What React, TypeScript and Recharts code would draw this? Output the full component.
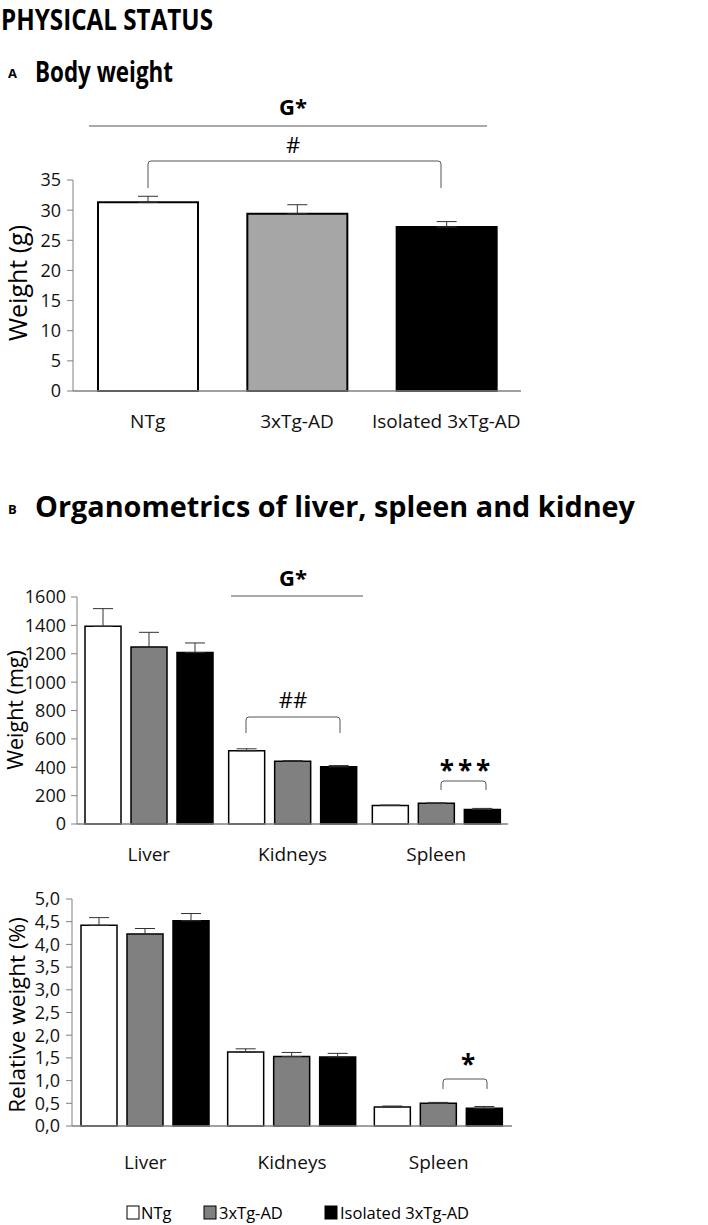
import React from "react";
import { BarChart, Bar, XAxis, YAxis, ErrorBar, Cell } from "recharts";

// Panel A - body weight (g)
const groups = ["NTg", "3xTg-AD", "Isolated 3xTg-AD"];
const bodyWeight = [31.3, 29.4, 27.2];
const bodyWeightErr = [1.0, 1.5, 0.9];
const bodyWeightTicks = [0, 5, 10, 15, 20, 25, 30, 35];

// Panel B - organ weights (mg)
const organs = ["Liver", "Kidneys", "Spleen"];
const organNTg = [1393, 516, 131];
const organNTgErr = [125, 14, 3];
const organTg = [1248, 443, 146];
const organTgErr = [103, 4, 3];
const organIso = [1208, 403, 103];
const organIsoErr = [68, 9, 7];
const organTicks = [0, 200, 400, 600, 800, 1000, 1200, 1400, 1600];

// Panel B - relative weight (%)
const relNTg = [4.42, 1.63, 0.42];
const relNTgErr = [0.17, 0.07, 0.02];
const relTg = [4.23, 1.53, 0.5];
const relTgErr = [0.12, 0.09, 0.02];
const relIso = [4.52, 1.52, 0.39];
const relIsoErr = [0.16, 0.08, 0.04];
const relTicks = [0, 0.5, 1, 1.5, 2, 2.5, 3, 3.5, 4, 4.5, 5];

const colorsA = ["#ffffff", "#a6a6a6", "#000000"];
const colorsB = ["#ffffff", "#808080", "#000000"];

const font = "'Open Sans', sans-serif";
const axisColor = "#808080";

const dataA = groups.map((g, i) => ({
  name: g,
  value: bodyWeight[i],
  err: [0, bodyWeightErr[i]],
}));

const dataOrgans = organs.map((o, i) => ({
  name: o,
  ntg: organNTg[i],
  ntgErr: [0, organNTgErr[i]],
  tg: organTg[i],
  tgErr: [0, organTgErr[i]],
  iso: organIso[i],
  isoErr: [0, organIsoErr[i]],
}));

const dataRel = organs.map((o, i) => ({
  name: o,
  ntg: relNTg[i],
  ntgErr: [0, relNTgErr[i]],
  tg: relTg[i],
  tgErr: [0, relTgErr[i]],
  iso: relIso[i],
  isoErr: [0, relIsoErr[i]],
}));

const xTick = { fill: "#111", fontSize: 19, fontFamily: font };
const yTick = { fill: "#111", fontSize: 18, fontFamily: font };

function Bracket({ x1, x2, y, h }: { x1: number; x2: number; y: number; h: number }) {
  return (
    <path
      d={`M${x1},${y + h} L${x1},${y + 3} Q${x1},${y} ${x1 + 3},${y} L${x2 - 3},${y} Q${x2},${y} ${x2},${y + 3} L${x2},${y + h}`}
      fill="none"
      stroke="#555"
      strokeWidth={1}
    />
  );
}

export default function App() {
  const barProps = { stroke: "#000", strokeWidth: 1.5, isAnimationActive: false, barSize: 36 };
  const err = { width: 10, stroke: "#333", strokeWidth: 1, direction: "y" as const };
  return (
    <div
      style={{
        position: "absolute",
        left: 0,
        top: 0,
        width: 708,
        height: 1225,
        background: "#fff",
        fontFamily: font,
      }}
    >
      <div style={{ position: "absolute", left: 0, top: 0 }}>
        <BarChart
          width={708}
          height={450}
          data={dataA}
          margin={{ top: 180, right: 187, bottom: 19, left: 0 }}
          barSize={100}
        >
          <XAxis
            dataKey="name"
            tickLine={false}
            axisLine={{ stroke: axisColor, strokeWidth: 1.5 }}
            tick={xTick}
            tickMargin={18}
            height={40}
          />
          <YAxis
            width={73}
            domain={[0, 35]}
            ticks={bodyWeightTicks}
            interval={0}
            axisLine={{ stroke: axisColor }}
            tickLine={{ stroke: axisColor }}
            tickSize={6}
            tickMargin={6}
            tick={yTick}
          />
          <Bar dataKey="value" stroke="#000" strokeWidth={2} isAnimationActive={false}>
            {dataA.map((d, i) => (
              <Cell key={d.name} fill={colorsA[i]} />
            ))}
            <ErrorBar dataKey="err" {...err} />
          </Bar>
        </BarChart>
      </div>

      <div style={{ position: "absolute", left: 0, top: 540 }}>
        <BarChart
          width={708}
          height={360}
          data={dataOrgans}
          margin={{ top: 57, right: 200, bottom: 36, left: 0 }}
          barGap={10}
        >
          <XAxis
            dataKey="name"
            tickLine={false}
            axisLine={{ stroke: axisColor, strokeWidth: 1.5 }}
            tick={xTick}
            tickMargin={18}
            height={40}
          />
          <YAxis
            width={77}
            domain={[0, 1600]}
            ticks={organTicks}
            interval={0}
            axisLine={{ stroke: axisColor }}
            tickLine={{ stroke: axisColor }}
            tickSize={6}
            tickMargin={5}
            tick={yTick}
          />
          <Bar dataKey="ntg" fill={colorsB[0]} {...barProps}>
            <ErrorBar dataKey="ntgErr" {...err} />
          </Bar>
          <Bar dataKey="tg" fill={colorsB[1]} {...barProps}>
            <ErrorBar dataKey="tgErr" {...err} />
          </Bar>
          <Bar dataKey="iso" fill={colorsB[2]} {...barProps}>
            <ErrorBar dataKey="isoErr" {...err} />
          </Bar>
        </BarChart>
      </div>

      <div style={{ position: "absolute", left: 0, top: 870 }}>
        <BarChart
          width={708}
          height={330}
          data={dataRel}
          margin={{ top: 29, right: 196, bottom: 34, left: 0 }}
          barGap={10}
        >
          <XAxis
            dataKey="name"
            tickLine={false}
            axisLine={{ stroke: axisColor, strokeWidth: 1.5 }}
            tick={xTick}
            tickMargin={24}
            height={40}
          />
          <YAxis
            width={72}
            domain={[0, 5]}
            ticks={relTicks}
            interval={0}
            axisLine={{ stroke: axisColor }}
            tickLine={{ stroke: axisColor }}
            tickSize={6}
            tickMargin={6}
            tick={yTick}
            tickFormatter={(v: number) => v.toFixed(1).replace(".", ",")}
          />
          <Bar dataKey="ntg" fill={colorsB[0]} {...barProps}>
            <ErrorBar dataKey="ntgErr" {...err} />
          </Bar>
          <Bar dataKey="tg" fill={colorsB[1]} {...barProps}>
            <ErrorBar dataKey="tgErr" {...err} />
          </Bar>
          <Bar dataKey="iso" fill={colorsB[2]} {...barProps}>
            <ErrorBar dataKey="isoErr" {...err} />
          </Bar>
        </BarChart>
      </div>

      {/* titles, axis titles, significance marks, legend */}
      <svg
        width={708}
        height={1225}
        style={{ position: "absolute", left: 0, top: 0, pointerEvents: "none" }}
        fontFamily={font}
      >
        <text x={1} y={30} fontSize={28} fontWeight="bold" textLength={212} lengthAdjust="spacingAndGlyphs">
          PHYSICAL STATUS
        </text>
        <text x={8} y={78} fontSize={13} fontWeight="bold">A</text>
        <text x={35} y={82} fontSize={28} fontWeight="bold" textLength={138} lengthAdjust="spacingAndGlyphs">
          Body weight
        </text>
        <text x={8} y={514} fontSize={13} fontWeight="bold">B</text>
        <text x={35} y={517} fontSize={28} fontWeight="bold" textLength={600} lengthAdjust="spacingAndGlyphs">
          Organometrics of liver, spleen and kidney
        </text>

        <text transform="translate(27,283) rotate(-90)" textAnchor="middle" fontSize={25}>
          Weight (g)
        </text>
        <text transform="translate(23,710) rotate(-90)" textAnchor="middle" fontSize={21.5}>
          Weight (mg)
        </text>
        <text transform="translate(25,1015) rotate(-90)" textAnchor="middle" fontSize={22.5}>
          Relative weight (%)
        </text>

        {/* panel A */}
        <text x={293} y={115} textAnchor="middle" fontSize={22} fontWeight="bold">G*</text>
        <line x1={89} x2={487} y1={126} y2={126} stroke="#555" strokeWidth={1} />
        <text x={293} y={153} textAnchor="middle" fontSize={22}>#</text>
        <Bracket x1={148} x2={441} y={161} h={27} />

        {/* panel B weight */}
        <text x={293} y={586} textAnchor="middle" fontSize={22} fontWeight="bold">G*</text>
        <line x1={231} x2={363} y1={596} y2={596} stroke="#555" strokeWidth={1} />
        <text x={293} y={708} textAnchor="middle" fontSize={22}>##</text>
        <Bracket x1={246} x2={340} y={717} h={16} />
        <text x={467} y={780} textAnchor="middle" fontSize={26} fontWeight="bold" letterSpacing={4}>***</text>
        <Bracket x1={441} x2={486} y={781} h={9} />

        {/* panel B relative */}
        <text x={468} y={1074} textAnchor="middle" fontSize={26} fontWeight="bold">*</text>
        <Bracket x1={443} x2={487} y={1079} h={10} />

        {/* legend */}
        <rect x={127} y={1206} width={12} height={13} fill={colorsB[0]} stroke="#000" strokeWidth={1} />
        <text x={141} y={1219} fontSize={16.5}>NTg</text>
        <rect x={204} y={1206} width={12} height={13} fill={colorsB[1]} stroke="#000" strokeWidth={1} />
        <text x={219} y={1219} fontSize={16.5}>3xTg-AD</text>
        <rect x={325} y={1206} width={12} height={13} fill={colorsB[2]} stroke="#000" strokeWidth={1} />
        <text x={340} y={1219} fontSize={16.5}>Isolated 3xTg-AD</text>
      </svg>
    </div>
  );
}
